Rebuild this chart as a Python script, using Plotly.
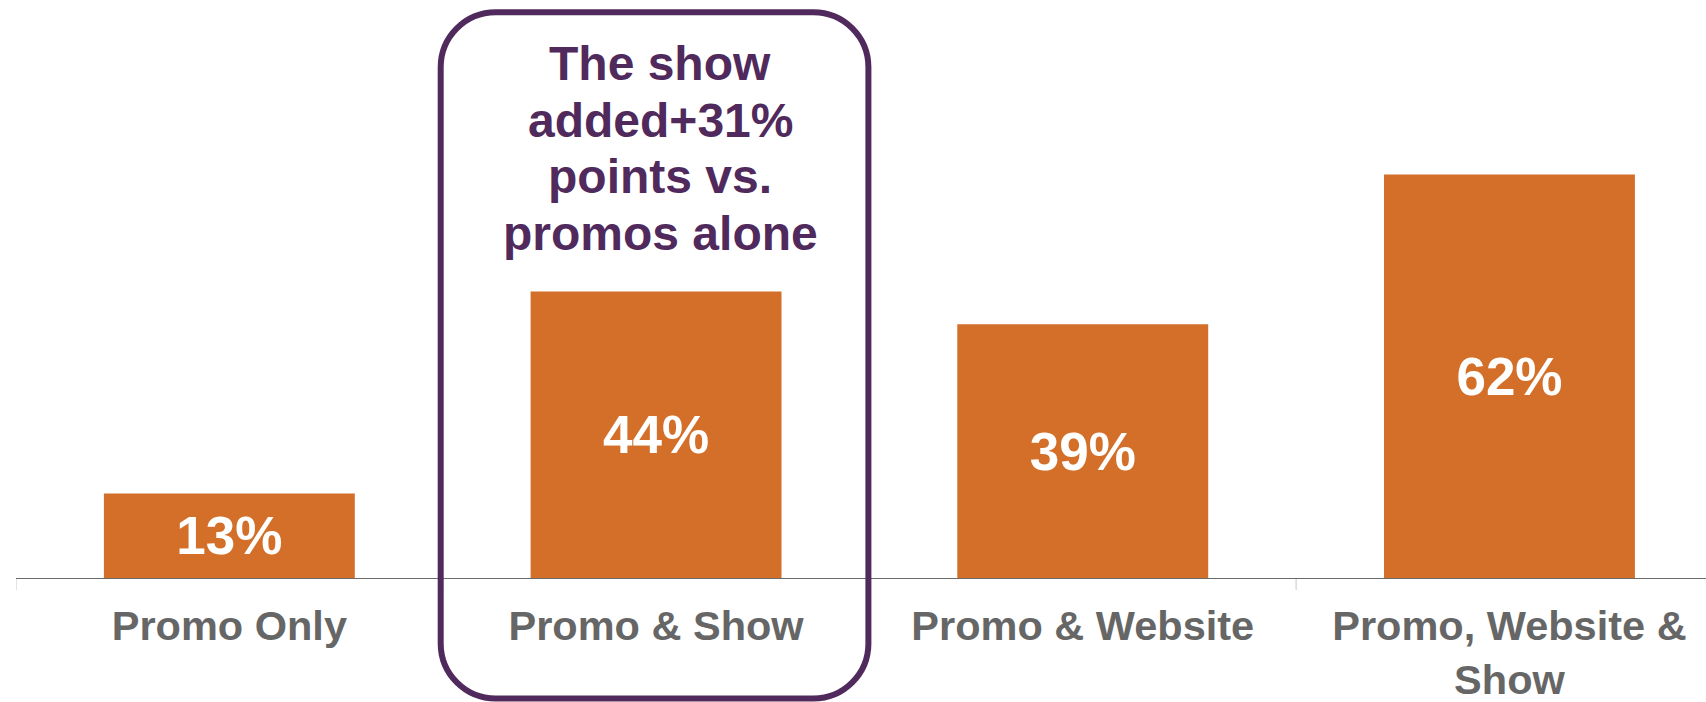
import plotly.graph_objects as go

# Share of respondents by exposure group
categories = ["Promo Only", "Promo & Show", "Promo & Website", "Promo, Website &<br>Show"]
values = [13, 44, 39, 62]
value_labels = ["13%", "44%", "39%", "62%"]
callout_lines = ["The show", "added+31%", "points vs.", "promos alone"]

ORANGE = "#D36F28"
PURPLE = "#502A5C"
GREY_TEXT = "#666666"
FONT = "Liberation Sans, Arial, sans-serif"

W, H = 1706, 702
M_L, M_R, M_T, M_B = 16, 0, 0, 124
PLOT_W = W - M_L - M_R
PLOT_H = H - M_T - M_B
CAT_PX = 426.7                      # pixel width of one category slot
X_RANGE = [-0.5, -0.5 + PLOT_W / CAT_PX]
Y_RANGE = [0, 88.8]


def x_to_paper(x):
    return (x - X_RANGE[0]) / (X_RANGE[1] - X_RANGE[0])


def px_to_paper_x(px):
    return (px - M_L) / PLOT_W


def py_to_paper_y(py):
    return (M_T + PLOT_H - py) / PLOT_H


fig = go.Figure(
    go.Bar(
        x=list(range(len(categories))),
        y=values,
        text=value_labels,
        textposition="inside",
        insidetextanchor="middle",
        textangle=0,
        constraintext="none",
        textfont=dict(family=FONT, size=53, color="white", weight="bold"),
        marker=dict(color=ORANGE, line=dict(width=0)),
        hoverinfo="skip",
        cliponaxis=False,
    )
)

# Rounded callout frame around the second category slot
left_px = M_L + x_to_paper(0.5) * PLOT_W - 2
right_px = M_L + x_to_paper(1.5) * PLOT_W - 1
top_py, bot_py, r = 12.2, 698.5, 55
k = 0.5523 * r


def P(px, py):
    return f"{px_to_paper_x(px):.5f},{py_to_paper_y(py):.5f}"


path = (
    f"M {P(left_px + r, top_py)} "
    f"L {P(right_px - r, top_py)} "
    f"C {P(right_px - r + k, top_py)} {P(right_px, top_py + r - k)} {P(right_px, top_py + r)} "
    f"L {P(right_px, bot_py - r)} "
    f"C {P(right_px, bot_py - r + k)} {P(right_px - r + k, bot_py)} {P(right_px - r, bot_py)} "
    f"L {P(left_px + r, bot_py)} "
    f"C {P(left_px + r - k, bot_py)} {P(left_px, bot_py - r + k)} {P(left_px, bot_py - r)} "
    f"L {P(left_px, top_py + r)} "
    f"C {P(left_px, top_py + r - k)} {P(left_px + r - k, top_py)} {P(left_px + r, top_py)} Z"
)
fig.add_shape(
    type="path", xref="paper", yref="paper", path=path,
    line=dict(color=PURPLE, width=6), fillcolor="rgba(0,0,0,0)", layer="above",
)

# Callout text, one annotation per line for tight leading
baselines = [80, 136.7, 193.3, 250]
for line, base in zip(callout_lines, baselines):
    fig.add_annotation(
        x=1, xref="x", xshift=4,
        y=py_to_paper_y(base - 16.6), yref="paper",
        text=line, showarrow=False, xanchor="center", yanchor="middle",
        font=dict(family=FONT, size=48, color=PURPLE, weight="bold"),
    )

fig.update_layout(
    width=W, height=H,
    margin=dict(l=M_L, r=M_R, t=M_T, b=M_B, pad=0, autoexpand=False),
    paper_bgcolor="white", plot_bgcolor="white",
    bargap=0.412,
    showlegend=False,
    xaxis=dict(
        type="linear",
        range=X_RANGE,
        automargin=False,
        tickmode="array",
        tickvals=list(range(len(categories))),
        ticktext=categories,
        ticks="",
        showline=True, linecolor="#6b6b6b", linewidth=1.3,
        showgrid=False, zeroline=False,
        tickfont=dict(family=FONT, size=41.5, color=GREY_TEXT, weight="bold"),
        ticklabelstandoff=11,
        fixedrange=True,
    ),
    yaxis=dict(range=Y_RANGE, visible=False, fixedrange=True, automargin=False),
)

# Short separators at category boundaries below the axis line
for b in [-0.5, 0.5, 1.5, 2.5]:
    fig.add_shape(
        type="line", xref="x", yref="paper",
        x0=b, x1=b, y0=0, y1=-12 / PLOT_H,
        line=dict(color="#c8c8c8", width=1), layer="below",
    )

fig.write_html("out.html")
